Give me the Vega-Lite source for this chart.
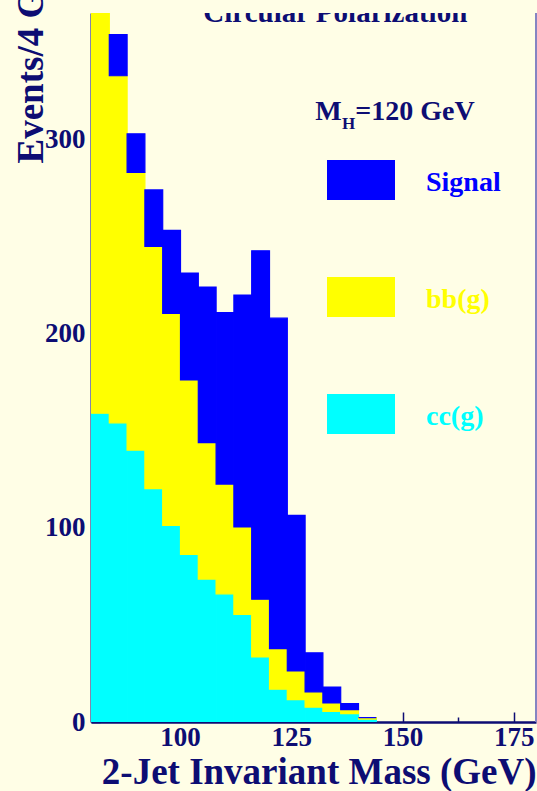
{
  "$schema": "https://vega.github.io/schema/vega-lite/v6.json",
  "width": 445,
  "height": 709,
  "autosize": {"type": "none"},
  "padding": {"left": 91, "top": 13, "right": 1, "bottom": 69},
  "background": "#fffee6",
  "config": {"view": {"stroke": null}, "font": "Liberation Serif"},
  "data": {
    "values": [
      {"lo": 80, "hi": 84, "series": "cc(g)", "events": 159},
      {"lo": 80, "hi": 84, "series": "bb(g)", "events": 216},
      {"lo": 80, "hi": 84, "series": "Signal", "events": 15},
      {"lo": 84, "hi": 88, "series": "cc(g)", "events": 154},
      {"lo": 84, "hi": 88, "series": "bb(g)", "events": 178.7},
      {"lo": 84, "hi": 88, "series": "Signal", "events": 21.2},
      {"lo": 88, "hi": 92, "series": "cc(g)", "events": 140},
      {"lo": 88, "hi": 92, "series": "bb(g)", "events": 143},
      {"lo": 88, "hi": 92, "series": "Signal", "events": 19.8},
      {"lo": 92, "hi": 96, "series": "cc(g)", "events": 120.1},
      {"lo": 92, "hi": 96, "series": "bb(g)", "events": 124.7},
      {"lo": 92, "hi": 96, "series": "Signal", "events": 29.1},
      {"lo": 96, "hi": 100, "series": "cc(g)", "events": 101.2},
      {"lo": 96, "hi": 100, "series": "bb(g)", "events": 109.1},
      {"lo": 96, "hi": 100, "series": "Signal", "events": 42.8},
      {"lo": 100, "hi": 104, "series": "cc(g)", "events": 86.3},
      {"lo": 100, "hi": 104, "series": "bb(g)", "events": 89.8},
      {"lo": 100, "hi": 104, "series": "Signal", "events": 55},
      {"lo": 104, "hi": 108, "series": "cc(g)", "events": 73.6},
      {"lo": 104, "hi": 108, "series": "bb(g)", "events": 70.2},
      {"lo": 104, "hi": 108, "series": "Signal", "events": 80.1},
      {"lo": 108, "hi": 112, "series": "cc(g)", "events": 66},
      {"lo": 108, "hi": 112, "series": "bb(g)", "events": 56.5},
      {"lo": 108, "hi": 112, "series": "Signal", "events": 88.3},
      {"lo": 112, "hi": 116, "series": "cc(g)", "events": 55.4},
      {"lo": 112, "hi": 116, "series": "bb(g)", "events": 45},
      {"lo": 112, "hi": 116, "series": "Signal", "events": 119.4},
      {"lo": 116, "hi": 120, "series": "cc(g)", "events": 33.5},
      {"lo": 116, "hi": 120, "series": "bb(g)", "events": 29.7},
      {"lo": 116, "hi": 120, "series": "Signal", "events": 179.4},
      {"lo": 120, "hi": 124, "series": "cc(g)", "events": 16.9},
      {"lo": 120, "hi": 124, "series": "bb(g)", "events": 20.9},
      {"lo": 120, "hi": 124, "series": "Signal", "events": 170.1},
      {"lo": 124, "hi": 128, "series": "cc(g)", "events": 11.5},
      {"lo": 124, "hi": 128, "series": "bb(g)", "events": 14.8},
      {"lo": 124, "hi": 128, "series": "Signal", "events": 80.1},
      {"lo": 128, "hi": 132, "series": "cc(g)", "events": 7.7},
      {"lo": 128, "hi": 132, "series": "bb(g)", "events": 7.8},
      {"lo": 128, "hi": 132, "series": "Signal", "events": 20.1},
      {"lo": 132, "hi": 136, "series": "cc(g)", "events": 5.5},
      {"lo": 132, "hi": 136, "series": "bb(g)", "events": 4.3},
      {"lo": 132, "hi": 136, "series": "Signal", "events": 8.2},
      {"lo": 136, "hi": 140, "series": "cc(g)", "events": 4.3},
      {"lo": 136, "hi": 140, "series": "bb(g)", "events": 2.1},
      {"lo": 136, "hi": 140, "series": "Signal", "events": 3.1},
      {"lo": 140, "hi": 144, "series": "cc(g)", "events": 1.5},
      {"lo": 140, "hi": 144, "series": "bb(g)", "events": 0.8},
      {"lo": 140, "hi": 144, "series": "Signal", "events": 0}
    ]
  },
  "layer": [
    {
      "mark": {"type": "bar", "binSpacing": 0, "clip": true, "opacity": 1, "strokeWidth": 1.2},
      "encoding": {
        "x": {
          "field": "lo",
          "type": "quantitative",
          "bin": {"binned": true, "step": 4},
          "scale": {"domain": [80, 180], "nice": false, "zero": false},
          "axis": {
            "values": [87.5, 100, 112.5, 125, 137.5, 150, 162.5, 175],
            "labelExpr": "datum.value % 25 === 0 ? format(datum.value, 'd') : ''",
            "title": "2-Jet Invariant Mass (GeV)",
            "titleFont": "Liberation Serif",
            "titleFontSize": 37,
            "titleFontWeight": "bold",
            "titleColor": "#0d0d73",
            "titleAnchor": "end",
            "titleAlign": "right",
            "titleBaseline": "alphabetic",
            "titleX": 445,
            "titleY": 61,
            "labelFont": "Liberation Serif",
            "labelFontSize": 27,
            "labelFontWeight": "bold",
            "labelColor": "#0d0d73",
            "labelPadding": 12,
            "labelFlush": false,
            "labelOverlap": false,
            "domainColor": "#0d0d73",
            "domainWidth": 2.5,
            "tickColor": "#0d0d73",
            "tickWidth": 1.5,
            "tickSize": {"condition": {"test": "datum.value % 25 === 0", "value": -10}, "value": -5},
            "grid": false
          }
        },
        "x2": {"field": "hi"},
        "y": {
          "field": "events",
          "type": "quantitative",
          "stack": "zero",
          "scale": {"domain": [0, 365], "nice": false},
          "axis": {
            "values": [0, 50, 100, 150, 200, 250, 300, 350],
            "labelExpr": "datum.value % 100 === 0 ? format(datum.value, 'd') : ''",
            "title": "Events/4 GeV",
            "titleFont": "Liberation Serif",
            "titleFontSize": 37,
            "titleFontWeight": "bold",
            "titleColor": "#0d0d73",
            "titleAngle": -90,
            "titleAlign": "left",
            "titleBaseline": "alphabetic",
            "titleX": -49,
            "titleY": 150,
            "labelFont": "Liberation Serif",
            "labelFontSize": 27,
            "labelFontWeight": "bold",
            "labelColor": "#0d0d73",
            "labelPadding": 15,
            "labelOverlap": false,
            "domainColor": "#0d0d73",
            "domainWidth": 2,
            "tickColor": "#0d0d73",
            "tickWidth": 1.5,
            "tickSize": {"condition": {"test": "datum.value % 100 === 0", "value": -9}, "value": -5},
            "grid": false
          }
        },
        "color": {
          "field": "series",
          "type": "nominal",
          "scale": {"domain": ["Signal", "bb(g)", "cc(g)"], "range": ["#0000ff", "#ffff00", "#00ffff"]},
          "legend": {
            "orient": "none",
            "legendX": 236,
            "legendY": 133,
            "title": null,
            "padding": 0,
            "symbolType": "M-1,-0.588L1,-0.588L1,0.588L-1,0.588Z",
            "symbolSize": 4624,
            "symbolStrokeWidth": 0,
            "symbolOpacity": 1,
            "rowPadding": 63,
            "labelOffset": 31,
            "labelFont": "Liberation Serif",
            "labelFontSize": 28,
            "labelFontWeight": "bold",
            "labelLimit": 300,
            "encode": {"labels": {"update": {"fill": {"scale": "color", "field": "value"}, "dy": {"value": 3}}}}
          }
        },
        "stroke": {
          "field": "series",
          "type": "nominal",
          "scale": {"domain": ["Signal", "bb(g)", "cc(g)"], "range": ["#0000ff", "#ffff00", "#00ffff"]},
          "legend": null
        },
        "order": {"field": "series", "sort": "descending"}
      }
    },
    {
      "data": {"values": [{}]},
      "mark": {"type": "rule", "color": "#8585c2", "strokeWidth": 2},
      "encoding": {"x": {"datum": 180}}
    },
    {
      "data": {"values": [{"label": "Circular Polarization"}]},
      "mark": {"type": "text", "clip": true, "align": "center", "baseline": "alphabetic", "font": "Liberation Serif", "fontSize": 29, "fontWeight": "bold", "color": "#0d0d73"},
      "encoding": {"x": {"datum": 134.9}, "y": {"datum": 360.3}, "text": {"field": "label"}}
    },
    {
      "data": {"values": [{"label": "M"}]},
      "mark": {"type": "text", "align": "left", "baseline": "alphabetic", "font": "Liberation Serif", "fontSize": 28, "fontWeight": "bold", "color": "#0d0d73"},
      "encoding": {"x": {"datum": 130.4}, "y": {"datum": 309.8}, "text": {"field": "label"}}
    },
    {
      "data": {"values": [{"label": "H"}]},
      "mark": {"type": "text", "align": "left", "baseline": "alphabetic", "font": "Liberation Serif", "fontSize": 17, "fontWeight": "bold", "color": "#0d0d73"},
      "encoding": {"x": {"datum": 136.4}, "y": {"datum": 305.4}, "text": {"field": "label"}}
    },
    {
      "data": {"values": [{"label": "=120 GeV"}]},
      "mark": {"type": "text", "align": "left", "baseline": "alphabetic", "font": "Liberation Serif", "fontSize": 28, "fontWeight": "bold", "color": "#0d0d73"},
      "encoding": {"x": {"datum": 139.4}, "y": {"datum": 309.8}, "text": {"field": "label"}}
    }
  ]
}
